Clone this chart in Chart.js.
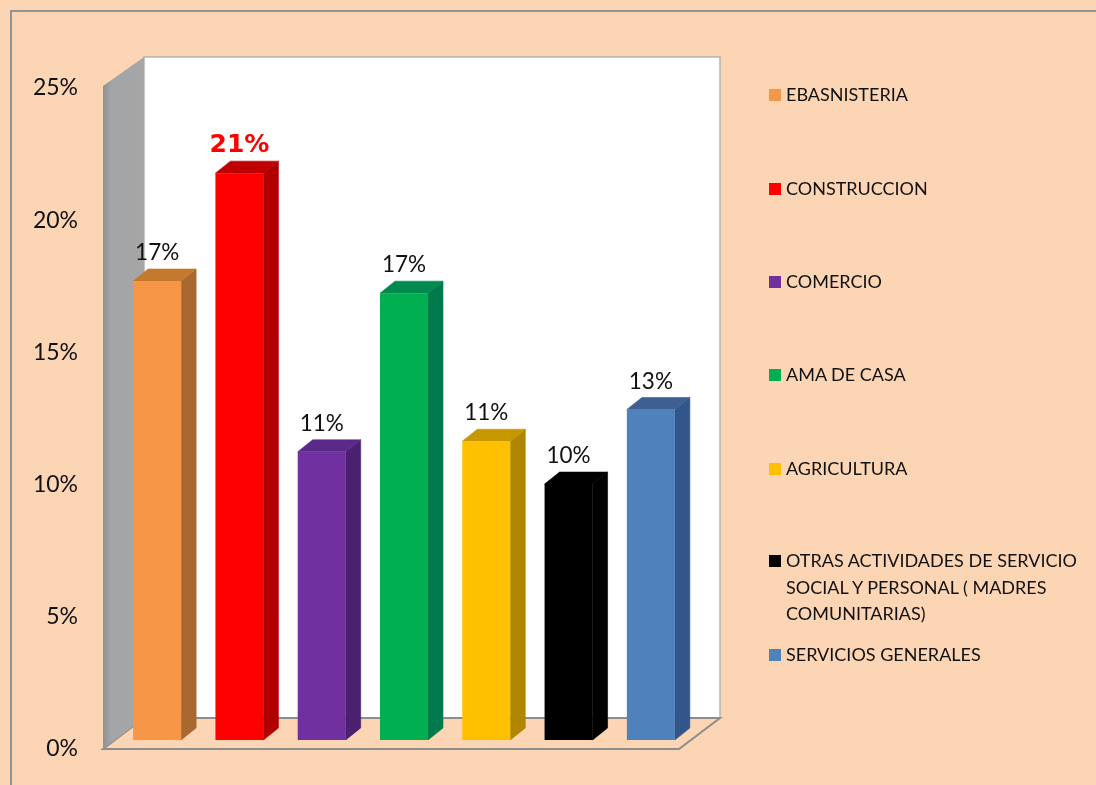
<!DOCTYPE html>
<html lang="es">
<head>
  <meta charset="UTF-8" />
  <title>Ocupacion</title>
  <script src="https://cdn.jsdelivr.net/npm/chart.js"></script>
  <style>
    html, body { margin: 0; padding: 0; background: #fcd5b5; overflow: hidden; }
    #wrap { position: relative; width: 1096px; height: 785px; }
    #legend div { position: absolute; left: 786px; width: 305px; font: 18px/26.5px Lato, sans-serif; color: #111111; white-space: pre-line; }
    #legend i { position: absolute; left: -17px; top: 8px; width: 12px; height: 12px; }
  </style>
</head>
<body>
  <div id="wrap">
    <canvas id="chartCanvas" width="1096" height="785"></canvas>
    <div id="legend"></div>
  </div>

  <script>
    const categories = ['EBASNISTERIA', 'CONSTRUCCION', 'COMERCIO', 'AMA DE CASA', 'AGRICULTURA',
      'OTRAS ACTIVIDADES DE SERVICIO\nSOCIAL Y PERSONAL ( MADRES\nCOMUNITARIAS)', 'SERVICIOS GENERALES'];
    const values = [17.36, 21.44, 10.9, 16.9, 11.3, 9.68, 12.5];
    const frontColors = ['#f79646', '#ff0000', '#7030a0', '#00b050', '#ffc000', '#000000', '#4f81bd'];
    const sideColors = ['#a8682f', '#b00000', '#4a2070', '#007a4c', '#b08600', '#000000', '#32568a'];
    const topColors = ['#c47a2c', '#c00000', '#5a2a88', '#008a50', '#c89800', '#000000', '#3d5f92'];
    const legendTops = [81, 175, 268, 361, 455, 547, 641];

    // depth of the fake 3d box and of the bars
    const wallDx = 41, wallDy = 31;
    const barDx = 15, barDy = 12;
    const shiftX = 13, shiftY = 9;

    categories.forEach((c, i) => {
      const row = document.createElement('div');
      row.style.top = legendTops[i] + 'px';
      row.innerHTML = `<i style="background:${frontColors[i]}"></i>`;
      row.appendChild(document.createTextNode(c));
      document.getElementById('legend').appendChild(row);
    });

    function poly(ctx, pts, fill, stroke, width) {
      ctx.beginPath();
      pts.forEach((p, i) => i ? ctx.lineTo(p[0], p[1]) : ctx.moveTo(p[0], p[1]));
      ctx.closePath();
      if (fill) { ctx.fillStyle = fill; ctx.fill(); }
      if (stroke) { ctx.strokeStyle = stroke; ctx.lineWidth = width || 2; ctx.stroke(); }
    }

    const box3d = {
      id: 'box3d',
      beforeDraw(chart) {
        const ctx = chart.ctx;
        ctx.save();
        ctx.fillStyle = '#fcd5b5';
        ctx.fillRect(0, 0, chart.width, chart.height);
        ctx.strokeStyle = '#8f9499';
        ctx.lineWidth = 2;
        ctx.beginPath();
        ctx.moveTo(11, chart.height);
        ctx.lineTo(11, 11);
        ctx.lineTo(chart.width, 11);
        ctx.stroke();
        ctx.restore();
      },
      beforeDatasetsDraw(chart) {
        const ctx = chart.ctx;
        const a = chart.chartArea;
        const wallTop = a.top - 2;
        ctx.save();
        // back wall
        ctx.fillStyle = '#ffffff';
        ctx.fillRect(a.left + wallDx, wallTop - 29, a.right - a.left, a.bottom - wallTop - 2);
        ctx.strokeStyle = '#b4b4b4';
        ctx.lineWidth = 1.5;
        ctx.strokeRect(a.left + wallDx, wallTop - 29, a.right - a.left, a.bottom - wallTop - 2);
        // floor
        poly(ctx, [[a.left, a.bottom], [a.left + wallDx, a.bottom - wallDy], [a.right + wallDx, a.bottom - wallDy], [a.right, a.bottom]], '#fcd5b5', '#8d8d8d');
        // left wall
        const g = ctx.createLinearGradient(a.left, 0, a.left + wallDx, 0);
        g.addColorStop(0, '#8f9295');
        g.addColorStop(0.2, '#a3a5a7');
        g.addColorStop(1, '#a6a6a6');
        poly(ctx, [[a.left, wallTop], [a.left + wallDx, wallTop - 29], [a.left + wallDx, a.bottom - wallDy], [a.left, a.bottom]], g);

        ctx.translate(shiftX, -shiftY);
        chart.getDatasetMeta(0).data.forEach((bar, i) => {
          const r = bar.x + bar.width / 2;
          const l = bar.x - bar.width / 2;
          poly(ctx, [[r, bar.base], [r + barDx, bar.base - barDy], [r + barDx, bar.y - barDy], [r, bar.y]], sideColors[i], sideColors[i], 0.6);
          poly(ctx, [[l, bar.y], [l + barDx, bar.y - barDy], [r + barDx, bar.y - barDy], [r, bar.y]], topColors[i], topColors[i], 0.6);
        });
      },
      afterDatasetsDraw(chart) {
        const ctx = chart.ctx;
        chart.getDatasetMeta(0).data.forEach((bar, i) => {
          const big = i === 1;
          ctx.font = big ? 'bold 25px "DejaVu Sans"' : '22.5px Lato';
          ctx.fillStyle = big ? '#ff0000' : '#111111';
          ctx.textAlign = 'center';
          ctx.textBaseline = 'middle';
          ctx.fillText(Math.round(values[i]) + '%', bar.x, bar.y - 28);
        });
        ctx.restore();
      }
    };

    new Chart(document.getElementById('chartCanvas').getContext('2d'), {
      type: 'bar',
      data: {
        labels: categories,
        datasets: [{
          data: values,
          backgroundColor: frontColors,
          barPercentage: 48 / 82.3,
          categoryPercentage: 1,
          clip: false
        }]
      },
      options: {
        responsive: false,
        animation: false,
        layout: { padding: { left: 0, top: 88, right: 417, bottom: 36 } },
        plugins: { legend: { display: false }, tooltip: { enabled: false } },
        scales: {
          x: { display: false },
          y: {
            min: 0,
            max: 25,
            afterFit(scale) {
              scale.width = 103;
              // keep the tick labels from adding extra room under the plot
              scale.paddingBottom = 0;
              scale.paddingTop = 0;
            },
            grid: { display: false, drawTicks: false },
            border: { display: false },
            ticks: {
              stepSize: 5,
              padding: 25,
              color: '#111111',
              font: { family: 'Lato', size: 23 },
              callback: v => v + '%'
            }
          }
        }
      },
      plugins: [box3d]
    });
  </script>
</body>
</html>
